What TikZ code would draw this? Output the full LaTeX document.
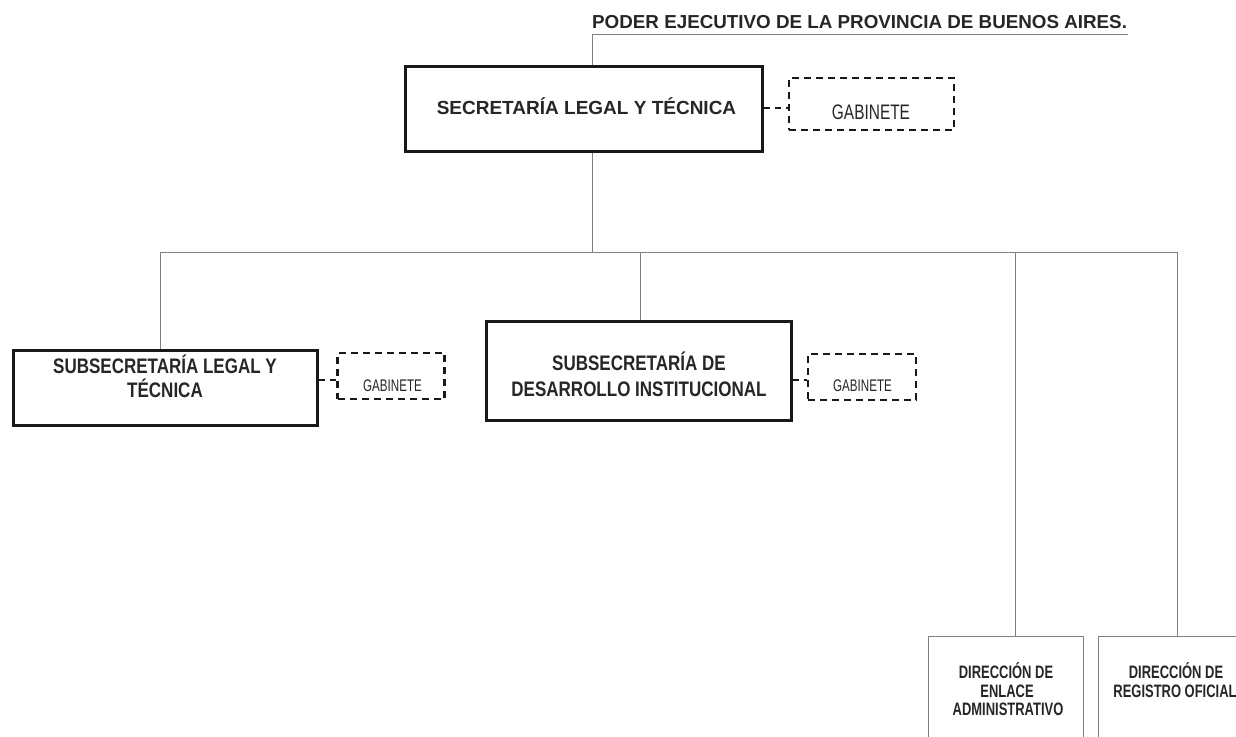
\documentclass[tikz,border=0pt]{standalone}
\usepackage{fontspec}
\usepackage{graphicx}
\setmainfont{Liberation Sans}
\newcommand\sqz[2]{\scalebox{#1}[1]{#2}}
\begin{document}
\begin{tikzpicture}[x=1pt,y=-1pt,
  conn/.style={draw=black!50, line width=0.9pt},
  bigbox/.style={draw=black!90, line width=3pt, inner sep=0pt},
  gab/.style={draw=black!90, line width=2.3pt, dash pattern=on 7pt off 5pt, inner sep=0pt},
  gabline/.style={draw=black!90, line width=2pt, dash pattern=on 6pt off 5pt},
  smallbox/.style={draw=black!50, line width=1pt, inner sep=0pt},
  lbl/.style={inner sep=0pt, anchor=base, text=black!85},
  bigfont/.style={font=\bfseries\fontsize{21}{25}\selectfont},
  dirfont/.style={font=\bfseries\fontsize{18}{20}\selectfont}
]
\useasboundingbox (0,0) rectangle (1236,736);
\clip (0,0) rectangle (1236,736);
% title
\node[lbl, anchor=base west, font=\bfseries\fontsize{18.8}{22}\selectfont] (title) at (592,28.5) {PODER EJECUTIVO DE LA PROVINCIA DE BUENOS AIRES.};
\coordinate (tl) at (592,34);
\coordinate (tr) at (1128,34);
\draw[conn] (tl) -- (tr);

% main box
\node[bigbox, minimum width=357pt, minimum height=85pt] (sec) at (583.5,108.5) {};
\node[lbl, font=\bfseries\fontsize{19}{22}\selectfont] (sect) at (586.5,114.5) {SECRETARÍA LEGAL Y TÉCNICA};
\node[gab, minimum width=165pt, minimum height=52pt] (gab0) at (871.5,104) {};
\node[lbl, font=\fontsize{21}{25}\selectfont] (gab0t) at (871,119) {\sqz{0.735}{GABINETE}};
\draw[conn] (tl) -- (tl |- sec.north);
\draw[gabline] (sec.east |- 0,108) -- (gab0.west |- 0,108);

% subsecretaria legal
\node[bigbox, minimum width=304pt, minimum height=75pt] (sub1) at (165,387.5) {};
\node[lbl, bigfont] (sub1a) at (165,373) {\sqz{0.81}{SUBSECRETARÍA LEGAL Y}};
\node[lbl, bigfont] (sub1b) at (165,397) {\sqz{0.81}{TÉCNICA}};
\node[gab, minimum width=107pt, minimum height=46pt] (gab1) at (391,376) {};
\node[lbl, font=\fontsize{16.8}{20}\selectfont] (gab1t) at (392.5,391) {\sqz{0.69}{GABINETE}};
\draw[gabline] (sub1.east |- 0,380) -- (gab1.west |- 0,380);

% subsecretaria desarrollo
\node[bigbox, minimum width=305pt, minimum height=99pt] (sub2) at (638.5,370.5) {};
\node[lbl, bigfont] (sub2a) at (639,370) {\sqz{0.81}{SUBSECRETARÍA DE}};
\node[lbl, bigfont] (sub2b) at (639,396) {\sqz{0.81}{DESARROLLO INSTITUCIONAL}};
\node[gab, minimum width=108pt, minimum height=46pt] (gab2) at (862,377) {};
\node[lbl, font=\fontsize{16.8}{20}\selectfont] (gab2t) at (862.5,391) {\sqz{0.69}{GABINETE}};
\draw[gabline] (sub2.east |- 0,380) -- (gab2.west |- 0,380);

% bottom boxes
\node[smallbox, minimum width=155pt, minimum height=130pt] (dir1) at (1005.5,701) {};
\node[smallbox, minimum width=150pt, minimum height=130pt] (dir2) at (1173,701) {};
\node[lbl, dirfont] (d1a) at (1006,678) {\sqz{0.72}{DIRECCIÓN DE}};
\node[lbl, dirfont] (d1b) at (1007,697) {\sqz{0.72}{ENLACE}};
\node[lbl, dirfont] (d1c) at (1008,715) {\sqz{0.72}{ADMINISTRATIVO}};
\node[lbl, dirfont] (d2a) at (1176,678) {\sqz{0.72}{DIRECCIÓN DE}};
\node[lbl, dirfont] (d2b) at (1175,697) {\sqz{0.72}{REGISTRO OFICIAL}};

% connectors
\coordinate (bus) at (592,252);
\coordinate (busL) at (160,252);
\coordinate (busR) at (1177,252);
\draw[conn] (sec.south -| bus) -- (bus);
\draw[conn] (busL) -- (busR);
\draw[conn] (busL) -- (sub1.north -| busL);
\draw[conn] (640,252) -- (sub2.north -| 640,0);
\draw[conn] (1015,252) -- (dir1.north -| 1015,0);
\draw[conn] (busR) -- (dir2.north -| busR);
\end{tikzpicture}
\end{document}
